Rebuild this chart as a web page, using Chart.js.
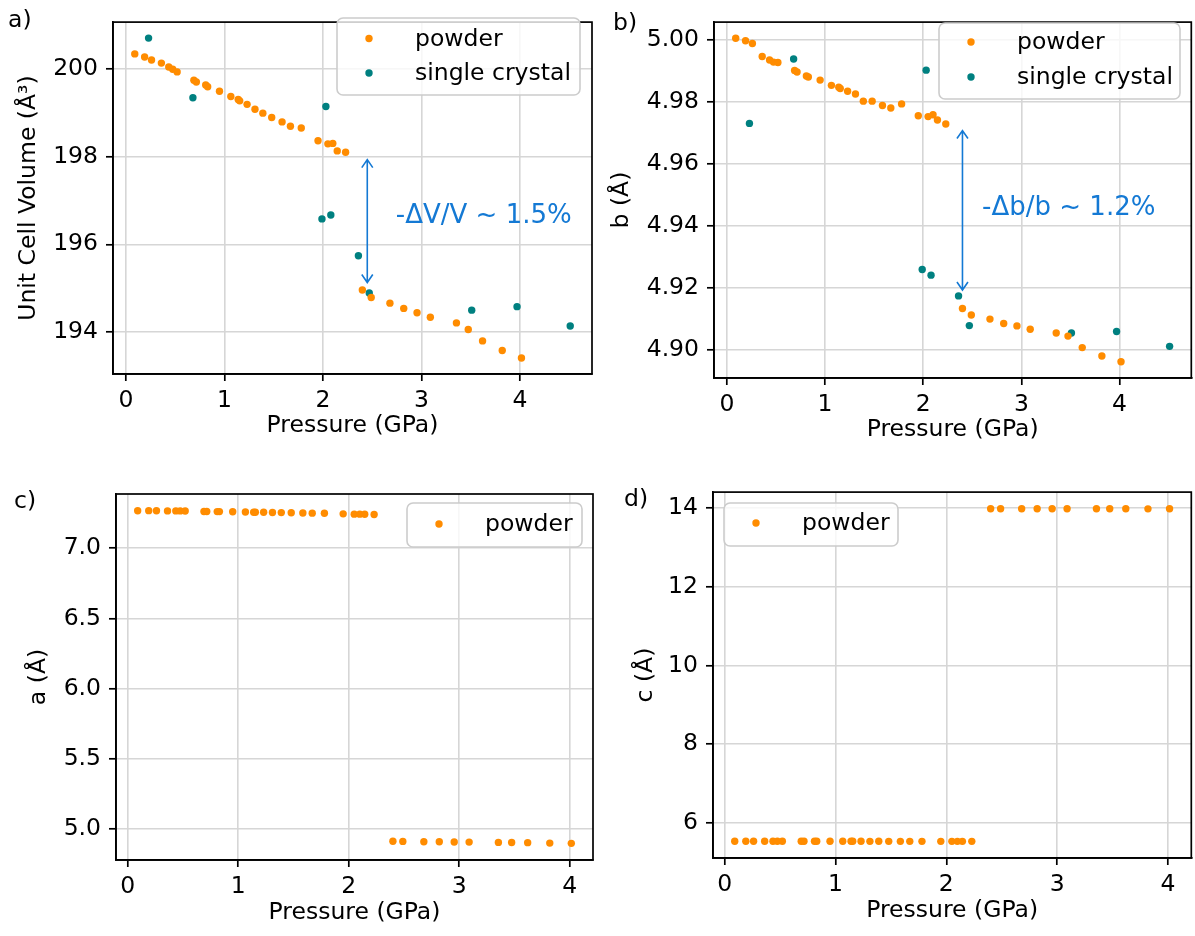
<!DOCTYPE html>
<html>
<head>
<meta charset="utf-8">
<script src="https://cdn.jsdelivr.net/npm/chart.js@4.4.1/dist/chart.umd.min.js"></script>
<style>
  body { margin: 0; background: #fff; width: 1195px; height: 936px; position: relative; overflow: hidden; }
  canvas { position: absolute; }
</style>
</head>
<body>
<canvas id="panel-a" width="597" height="444" style="left:0px;top:0px"></canvas>
<canvas id="panel-b" width="595" height="448" style="left:600px;top:0px"></canvas>
<canvas id="panel-c" width="597" height="461" style="left:0px;top:470px"></canvas>
<canvas id="panel-d" width="595" height="459" style="left:600px;top:470px"></canvas>
<script>
// powder pressures (GPa): low-pressure phase, then high-pressure phase
const powderP = [0.09, 0.19, 0.26, 0.36, 0.435, 0.475, 0.52, 0.69, 0.715, 0.81, 0.83, 0.95, 1.065, 1.14,
  1.155, 1.23, 1.31, 1.39, 1.48, 1.585, 1.67, 1.78, 1.95, 2.05, 2.10, 2.145, 2.23,
  2.40, 2.49, 2.68, 2.82, 2.955, 3.09, 3.355, 3.475, 3.62, 3.82, 4.015];
const volPowder = [200.34, 200.27, 200.20, 200.13, 200.04, 199.99, 199.93, 199.74, 199.70, 199.63, 199.59,
  199.49, 199.37, 199.30, 199.27, 199.19, 199.08, 198.99, 198.89, 198.79, 198.69, 198.65, 198.36, 198.29,
  198.30, 198.13, 198.10,
  194.96, 194.79, 194.66, 194.54, 194.44, 194.34, 194.21, 194.06, 193.80, 193.58, 193.41];
const bPowder = [5.0005, 4.9997, 4.9988, 4.9946, 4.9935, 4.9928, 4.9927, 4.9901, 4.9896, 4.9883, 4.9880,
  4.9870, 4.9853, 4.9847, 4.9843, 4.9834, 4.9825, 4.9802, 4.9802, 4.9788, 4.9780, 4.9793, 4.9755, 4.9752,
  4.9758, 4.9741, 4.9728,
  4.9132, 4.9111, 4.9098, 4.9084, 4.9076, 4.9065, 4.9053, 4.9043, 4.9006, 4.8979, 4.8960];
const aPowder = [7.267, 7.268, 7.267, 7.266, 7.266, 7.266, 7.265, 7.262, 7.262, 7.261, 7.261, 7.260, 7.258,
  7.257, 7.257, 7.256, 7.255, 7.254, 7.253, 7.251, 7.250, 7.249, 7.245, 7.243, 7.243, 7.242, 7.241,
  4.913, 4.912, 4.910, 4.909, 4.908, 4.907, 4.905, 4.904, 4.903, 4.900, 4.898];
const cPowder = [5.536, 5.536, 5.535, 5.536, 5.535, 5.535, 5.535, 5.535, 5.535, 5.534, 5.535, 5.534, 5.534,
  5.534, 5.534, 5.534, 5.533, 5.534, 5.533, 5.533, 5.533, 5.533, 5.532, 5.533, 5.532, 5.532, 5.532,
  13.985, 13.986, 13.985, 13.985, 13.984, 13.985, 13.984, 13.984, 13.985, 13.983, 13.984];

// single crystal points
const crystalP = [0.23, 0.68, 1.99, 2.03, 2.08, 2.36, 2.47, 3.51, 3.97, 4.51];
const volCrystal = [200.70, 199.34, 196.58, 199.14, 196.67, 195.74, 194.89, 194.50, 194.58, 194.14];
const bCrystal = [4.9730, 4.9938, 4.9258, 4.9902, 4.9240, 4.9173, 4.9077, 4.9053, 4.9058, 4.9010];

// tick labels
const pressureTicks = [0, 1, 2, 3, 4];
const volTicks = [194, 196, 198, 200];
const bTicks = [4.90, 4.92, 4.94, 4.96, 4.98, 5.00];
const aTicks = [5.0, 5.5, 6.0, 6.5, 7.0];
const cTicks = [6, 8, 10, 12, 14];

const ORANGE = '#ff8c00';
const TEAL = '#008080';
const BLUE = '#1479d4';
const FONT = '"DejaVu Sans", sans-serif';
const FS = 23.5;

Chart.defaults.font.family = FONT;
Chart.defaults.font.size = FS;
Chart.defaults.color = '#000';

function pts(xs, ys) {
  return xs.map((x, i) => ({ x: x, y: ys[i] }));
}

// matplotlib-like 5% margins
function span(...arrs) {
  const all = [].concat(...arrs);
  const lo = Math.min(...all), hi = Math.max(...all), m = (hi - lo) * 0.05;
  return { min: lo - m, max: hi + m };
}

function roundRect(ctx, x, y, w, h, r) {
  ctx.beginPath();
  ctx.moveTo(x + r, y);
  ctx.arcTo(x + w, y, x + w, y + h, r);
  ctx.arcTo(x + w, y + h, x, y + h, r);
  ctx.arcTo(x, y + h, x, y, r);
  ctx.arcTo(x, y, x + w, y, r);
  ctx.closePath();
}

const panelDecor = {
  id: 'panelDecor',
  afterDraw(chart, args, opts) {
    const ctx = chart.ctx, area = chart.chartArea;
    const xs = chart.scales.x, ys = chart.scales.y;
    ctx.save();
    // axes frame
    ctx.strokeStyle = '#000';
    ctx.lineWidth = 1.7;
    ctx.strokeRect(area.left, area.top, area.right - area.left, area.bottom - area.top);

    // panel letter
    ctx.font = FS + 'px ' + FONT;
    ctx.fillStyle = '#000';
    ctx.textAlign = 'left';
    ctx.textBaseline = 'alphabetic';
    ctx.fillText(opts.letter[0], opts.letter[1], opts.letter[2]);

    // double arrow + jump text
    if (opts.arrow) {
      const a = opts.arrow;
      const x = xs.getPixelForValue(a.x);
      const y1 = ys.getPixelForValue(a.from), y2 = ys.getPixelForValue(a.to);
      ctx.strokeStyle = BLUE;
      ctx.lineWidth = 1.6;
      ctx.beginPath();
      ctx.moveTo(x, y1); ctx.lineTo(x, y2);
      ctx.moveTo(x - 5.5, y1 + 8); ctx.lineTo(x, y1); ctx.lineTo(x + 5.5, y1 + 8);
      ctx.moveTo(x - 5.5, y2 - 8); ctx.lineTo(x, y2); ctx.lineTo(x + 5.5, y2 - 8);
      ctx.stroke();
      ctx.font = '26px ' + FONT;
      ctx.fillStyle = BLUE;
      ctx.textBaseline = 'middle';
      ctx.fillText(a.text, xs.getPixelForValue(a.tx), ys.getPixelForValue(a.ty));
    }

    // legend
    const L = opts.legend;
    roundRect(ctx, L.x, L.y, L.w, L.h, 6);
    ctx.fillStyle = 'rgba(255,255,255,0.8)';
    ctx.fill();
    ctx.strokeStyle = '#cccccc';
    ctx.lineWidth = 1.6;
    ctx.stroke();
    ctx.font = FS + 'px ' + FONT;
    ctx.textBaseline = 'middle';
    chart.data.datasets.forEach((ds, i) => {
      const ry = L.y + L.first + i * L.step;
      ctx.fillStyle = ds.backgroundColor;
      ctx.beginPath();
      ctx.arc(L.x + 32, ry, 3.7, 0, Math.PI * 2);
      ctx.fill();
      ctx.fillStyle = '#000';
      ctx.fillText(ds.label, L.x + 78, ry + 1);
    });
    ctx.restore();
  }
};

function makePanel(id, cfg) {
  const xr = cfg.xRange, yr = cfg.yRange;
  return new Chart(document.getElementById(id), {
    type: 'scatter',
    data: { datasets: cfg.datasets },
    options: {
      responsive: false,
      animation: false,
      devicePixelRatio: 1,
      layout: { padding: { left: 0, top: cfg.top, right: cfg.right, bottom: 0 } },
      elements: { point: { radius: 3.7, borderWidth: 0, hoverRadius: 3.7 } },
      plugins: {
        legend: { display: false },
        tooltip: { enabled: false },
        panelDecor: cfg.decor
      },
      scales: {
        x: {
          type: 'linear',
          min: xr.min, max: xr.max,
          afterBuildTicks: s => { s.ticks = pressureTicks.map(v => ({ value: v })); },
          afterFit: s => { s.height = cfg.xh; },
          ticks: { padding: 6, maxRotation: 0, callback: v => v.toFixed(0) },
          grid: { color: '#d6d6d6', lineWidth: 1.6, tickColor: '#000', tickLength: 7, tickWidth: 1.7 },
          border: { color: '#000', width: 1.7 },
          title: { display: true, text: 'Pressure (GPa)', padding: { top: 0, bottom: 4 } }
        },
        y: {
          type: 'linear',
          min: yr.min, max: yr.max,
          afterBuildTicks: s => { s.ticks = cfg.yTicks.map(v => ({ value: v })); },
          afterFit: s => { s.width = cfg.yw; },
          ticks: { padding: 8, callback: v => v.toFixed(cfg.yDec) },
          grid: { color: '#d6d6d6', lineWidth: 1.6, tickColor: '#000', tickLength: 7, tickWidth: 1.7 },
          border: { color: '#000', width: 1.7 },
          title: { display: true, text: cfg.yTitle, padding: { top: cfg.yTitlePad, bottom: 0 } }
        }
      }
    },
    plugins: [panelDecor]
  });
}

const abX = span(powderP, crystalP);
const cdX = span(powderP);

makePanel('panel-a', {
  top: 6, right: 5, xh: 70, yw: 113, yTitlePad: 15,
  xRange: abX, yRange: span(volPowder, volCrystal),
  yTicks: volTicks, yDec: 0, yTitle: 'Unit Cell Volume (Å³)',
  datasets: [
    { label: 'powder', data: pts(powderP, volPowder), backgroundColor: ORANGE },
    { label: 'single crystal', data: pts(crystalP, volCrystal), backgroundColor: TEAL }
  ],
  decor: {
    letter: ['a)', 8, 27],
    arrow: { x: 2.45, from: 197.93, to: 195.13, text: '-ΔV/V ~ 1.5%', tx: 2.74, ty: 196.64 },
    legend: { x: 337, y: 18, w: 243, h: 77, first: 20.5, step: 34.5 }
  }
});

makePanel('panel-b', {
  top: 11.7, right: 3, xh: 70, yw: 114, yTitlePad: 8,
  xRange: abX, yRange: span(bPowder, bCrystal),
  yTicks: bTicks, yDec: 2, yTitle: 'b (Å)',
  datasets: [
    { label: 'powder', data: pts(powderP, bPowder), backgroundColor: ORANGE },
    { label: 'single crystal', data: pts(crystalP, bCrystal), backgroundColor: TEAL }
  ],
  decor: {
    letter: ['b)', 13, 30],
    arrow: { x: 2.40, from: 4.9707, to: 4.9192, text: '-Δb/b ~ 1.2%', tx: 2.60, ty: 4.9457 },
    legend: { x: 339, y: 23, w: 241, h: 76, first: 19, step: 35 }
  }
});

makePanel('panel-c', {
  top: 24, right: 4, xh: 71, yw: 116, yTitlePad: 25,
  xRange: cdX, yRange: span(aPowder),
  yTicks: aTicks, yDec: 1, yTitle: 'a (Å)',
  datasets: [
    { label: 'powder', data: pts(powderP, aPowder), backgroundColor: ORANGE }
  ],
  decor: {
    letter: ['c)', 14, 38],
    legend: { x: 407, y: 33, w: 175, h: 44, first: 21, step: 35 }
  }
});

makePanel('panel-d', {
  top: 21.7, right: 3.5, xh: 71, yw: 113, yTitlePad: 32,
  xRange: cdX, yRange: span(cPowder),
  yTicks: cTicks, yDec: 0, yTitle: 'c (Å)',
  datasets: [
    { label: 'powder', data: pts(powderP, cPowder), backgroundColor: ORANGE }
  ],
  decor: {
    letter: ['d)', 24, 36],
    legend: { x: 124, y: 33, w: 174, h: 43, first: 20, step: 35 }
  }
});
</script>
</body>
</html>
